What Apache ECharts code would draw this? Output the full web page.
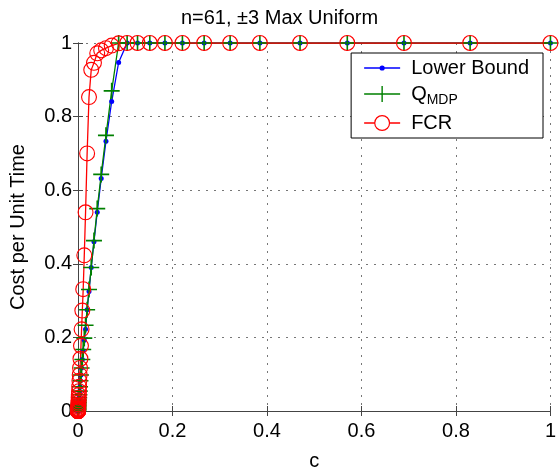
<!DOCTYPE html>
<html>
<head>
<meta charset="utf-8">
<script src="https://cdn.jsdelivr.net/npm/echarts@6/dist/echarts.min.js"></script>
<style>
  html, body { margin: 0; padding: 0; background: #fff; }
  #chart { width: 559px; height: 476px; }
</style>
</head>
<body>
<div id="chart"></div>
<script>
// c values (x)
var cValues = [1, 0.83, 0.69, 0.57, 0.47, 0.385, 0.322, 0.267, 0.221, 0.184,
    0.152, 0.126, 0.104, 0.086, 0.0713, 0.0592, 0.0491, 0.0407, 0.0338, 0.028,
    0.0233, 0.0193, 0.016, 0.0133, 0.011, 0.00915, 0.0076, 0.0063, 0.0052, 0.0043,
    0.0036, 0.003, 0.0025, 0.0021, 0.0017, 0.0014, 0.0012, 0.001, 0.00082, 0.00068,
    0.00057, 0.00047, 0.00039, 0.00032, 0.00027, 0.00022, 0.00018, 0.00015, 0.00012, 0.0001,
    0.000083, 0.000069, 0.000057, 0.000047, 0.000039, 0.000033, 0.000027, 0.000022, 0.000019, 0.000015,
    0.000013];

var lowerBound = [1, 1, 1, 1, 1, 1, 1, 1, 1, 1,
    1, 1, 1, 0.947, 0.841, 0.733, 0.632, 0.54, 0.46, 0.39,
    0.325, 0.275, 0.222, 0.192, 0.164, 0.14, 0.117, 0.098, 0.082, 0.066,
    0.054, 0.044, 0.036, 0.03, 0.024, 0.02, 0.016, 0.013, 0.011, 0.009,
    0.007, 0.006, 0.005, 0.004, 0.003, 0.003, 0.002, 0.002, 0.002, 0.001,
    0.001, 0.001, 0.001, 0.001, 0, 0, 0, 0, 0, 0,
    0];

var qmdp = [1, 1, 1, 1, 1, 1, 1, 1, 1, 1,
    1, 1, 1, 1, 0.87, 0.749, 0.643, 0.55, 0.463, 0.39,
    0.33, 0.275, 0.233, 0.198, 0.167, 0.14, 0.117, 0.098, 0.082, 0.066,
    0.054, 0.044, 0.036, 0.03, 0.024, 0.02, 0.016, 0.013, 0.011, 0.009,
    0.007, 0.006, 0.005, 0.004, 0.003, 0.003, 0.002, 0.002, 0.002, 0.001,
    0.001, 0.001, 0.001, 0.001, 0, 0, 0, 0, 0, 0,
    0];

var fcr = [1, 1, 1, 1, 1, 1, 1, 1, 1, 1,
    1, 1, 1, 0.999, 0.993, 0.986, 0.98, 0.972, 0.946, 0.927,
    0.853, 0.7, 0.54, 0.423, 0.331, 0.273, 0.222, 0.177, 0.142, 0.117,
    0.098, 0.082, 0.066, 0.054, 0.044, 0.036, 0.029, 0.023, 0.018, 0.014,
    0.011, 0.008, 0.006, 0.005, 0.004, 0.003, 0.002, 0.002, 0.001, 0.001,
    0.001, 0.001, 0, 0, 0, 0, 0, 0, 0, 0,
    0];

var axisTicks = [0, 0.2, 0.4, 0.6, 0.8, 1];

function pairs(ys) {
    return cValues.map(function(c, i) { return [c, ys[i]]; });
}

var FONT = '"Liberation Sans", Arial, sans-serif';
var plusSymbol = 'path://M9,0h2v9h9v2h-9v9h-2v-9h-9v-2h9z';
var ringSymbol = 'path://M10,0A10,10 0 1,1 10,20A10,10 0 1,1 10,0Z M10,1.4A8.6,8.6 0 1,0 10,18.6A8.6,8.6 0 1,0 10,1.4Z';

// legend icons drawn in a 36x16 box (tiny corner squares fix the bounding box)
var corners = 'M0,0h0.01v0.01h-0.01z M35.99,15.99h0.01v0.01h-0.01z ';
var iconLower = 'path://' + corners +
    'M0,7.35h15.6v1.3h-15.6z M20.4,7.35h15.6v1.3h-15.6z ' +
    'M20.6,8A2.6,2.6 0 1,1 15.4,8A2.6,2.6 0 1,1 20.6,8Z';
var iconPlus = 'path://' + corners +
    'M0,7.35h36v1.3h-36z M17.3,0h1.4v7.35h-1.4z M17.3,8.65h1.4v7.35h-1.4z';
var iconRing = 'path://' + corners +
    'M0,7.35h10.2v1.3h-10.2z M25.8,7.35h10.2v1.3h-10.2z ' +
    'M18,0A8,8 0 1,1 18,16A8,8 0 1,1 18,0Z M18,1.2A6.8,6.8 0 1,0 18,14.8A6.8,6.8 0 1,0 18,1.2Z';

var chart = echarts.init(document.getElementById('chart'));

var boxAxis = {
    min: 0, max: 1, interval: 0.2,
    axisLine: { show: true, lineStyle: { color: '#444', width: 1 } },
    axisTick: { show: true, inside: true, length: 5, lineStyle: { color: '#444' } },
    axisLabel: { show: false },
    splitLine: { show: false }
};

var gridLine = { show: true, lineStyle: { color: '#777', type: [2, 6], width: 1 } };

chart.setOption({
    animation: false,
    backgroundColor: '#fff',
    title: {
        text: 'n=61, \u00b13 Max Uniform',
        left: 'center',
        top: 3,
        textStyle: { fontFamily: FONT, fontSize: 20, fontWeight: 'normal', color: '#000' }
    },
    grid: { left: 76, right: 4, top: 43, bottom: 55 },
    legend: {
        orient: 'vertical',
        right: 16,
        top: 53,
        padding: [5, 14, 5, 13],
        itemGap: 6,
        itemWidth: 36,
        itemHeight: 16,
        backgroundColor: '#fff',
        borderColor: '#000',
        borderWidth: 1,
        borderRadius: 0,
        data: [
            { name: 'Lower Bound', icon: iconLower },
            { name: 'Q_MDP', icon: iconPlus },
            { name: 'FCR', icon: iconRing }
        ],
        formatter: function(name) {
            return name === 'Q_MDP' ? '{q|Q}{s|MDP}' : name;
        },
        textStyle: {
            fontFamily: FONT, fontSize: 20, color: '#000',
            padding: [0, 0, 0, 6],
            rich: {
                q: { fontFamily: FONT, fontSize: 20, color: '#000' },
                s: { fontFamily: FONT, fontSize: 14, color: '#000', padding: [12, 0, 0, 0] }
            }
        }
    },
    xAxis: [{
        type: 'value',
        min: 0, max: 1, interval: 0.2,
        name: 'c',
        nameLocation: 'middle',
        nameGap: 40,
        nameTextStyle: { fontFamily: FONT, fontSize: 20, color: '#000' },
        axisLine: { show: true, onZero: false, lineStyle: { color: '#444', width: 1 } },
        axisTick: { show: true, inside: true, length: 5, lineStyle: { color: '#444' } },
        axisLabel: {
            fontFamily: FONT, fontSize: 20, color: '#000', margin: 10,
            formatter: function(v) { return axisTicks.indexOf(Math.round(v * 10) / 10) >= 0 ? String(Math.round(v * 10) / 10) : ''; }
        },
        splitLine: gridLine
    }, Object.assign({ type: 'value', position: 'top' }, boxAxis)],
    yAxis: [{
        type: 'value',
        min: 0, max: 1, interval: 0.2,
        name: 'Cost per Unit Time',
        nameLocation: 'middle',
        nameGap: 50,
        nameTextStyle: { fontFamily: FONT, fontSize: 20, color: '#000' },
        axisLine: { show: true, onZero: false, lineStyle: { color: '#444', width: 1 } },
        axisTick: { show: true, inside: true, length: 5, lineStyle: { color: '#444' } },
        axisLabel: {
            fontFamily: FONT, fontSize: 20, color: '#000', margin: 6,
            formatter: function(v) { return String(Math.round(v * 10) / 10); }
        },
        splitLine: gridLine
    }, Object.assign({ type: 'value', position: 'right' }, boxAxis)],
    series: [{
        name: 'Lower Bound',
        type: 'line',
        data: pairs(lowerBound),
        symbol: 'circle',
        symbolSize: 5,
        showAllSymbol: true,
        color: '#0000ff',
        itemStyle: { color: '#0000ff' },
        lineStyle: { color: '#0000ff', width: 1.3 }
    }, {
        name: 'Q_MDP',
        type: 'line',
        data: pairs(qmdp),
        symbol: plusSymbol,
        symbolSize: 16,
        showAllSymbol: true,
        color: '#008000',
        itemStyle: { color: '#008000' },
        lineStyle: { color: '#008000', width: 1.3 }
    }, {
        name: 'FCR',
        type: 'line',
        data: pairs(fcr),
        symbol: ringSymbol,
        symbolSize: 16,
        showAllSymbol: true,
        color: '#ff0000',
        itemStyle: { color: '#ff0000' },
        lineStyle: { color: '#ff0000', width: 1.3 }
    }]
});
</script>
</body>
</html>
